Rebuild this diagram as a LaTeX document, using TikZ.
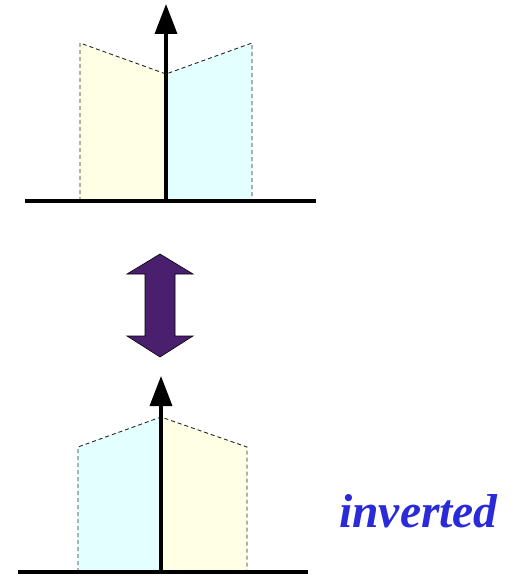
\documentclass[tikz,border=0pt]{standalone}
\usepackage{fontspec}
\setmainfont{Liberation Serif}
\usetikzlibrary{arrows.meta}

\definecolor{paleyellow}{HTML}{FFFFE6}
\definecolor{palecyan}{HTML}{E3FFFF}
\definecolor{swapviolet}{HTML}{4A1F6E}
\definecolor{labelblue}{HTML}{2A2AD8}

\begin{document}
\begin{tikzpicture}[
    x=1pt, y=-1pt,
    face/.style={
        draw=black!85, dash pattern=on 4pt off 3pt,
        line width=0.9pt
    },
    ground/.style={
        line width=3.5pt
    },
    axis/.style={
        line width=3.5pt, -{Triangle[length=30pt, width=22pt]}
    },
    swap/.style={
        draw=black, line width=0.6pt, fill=swapviolet
    },
    tag/.style={
        font=\fontsize{47.5}{52}\selectfont\bfseries\itshape,
        text=labelblue
    }
]
\useasboundingbox (0,0) rectangle (512,577);

% Upper panel
\coordinate (upper base) at (166,201);
\coordinate (upper tip) at (166,4);
\fill[paleyellow] (80,201) -- (80,43) -- (166,74) -- (166,201) -- cycle;
\fill[palecyan] (166,201) -- (166,74) -- (252,43) -- (252,201) -- cycle;
\draw[face] (80,201) -- (80,43) -- (166,74) -- (252,43) -- (252,201);
\draw[ground] (25,201) -- (316,201);
\draw[axis] (upper base) -- (upper tip);

% Swap arrow
\draw[swap] (160,254) -- (193,274) -- (175,274) -- (175,336) -- (193,336)
    -- (160,357) -- (127,336) -- (145,336) -- (145,274) -- (127,274) -- cycle;

% Lower panel
\coordinate (lower base) at (161,572);
\coordinate (lower tip) at (161,376);
\fill[palecyan] (78,572) -- (78,447) -- (161,417) -- (161,572) -- cycle;
\fill[paleyellow] (161,572) -- (161,417) -- (247,447) -- (247,572) -- cycle;
\draw[face] (78,572) -- (78,447) -- (161,417) -- (247,447) -- (247,572);
\draw[ground] (18,572) -- (308,572);
\draw[axis] (lower base) -- (lower tip);

% Label
\node[tag, anchor=base] (inverted) at (418.5,527) {inverted};

\end{tikzpicture}
\end{document}
